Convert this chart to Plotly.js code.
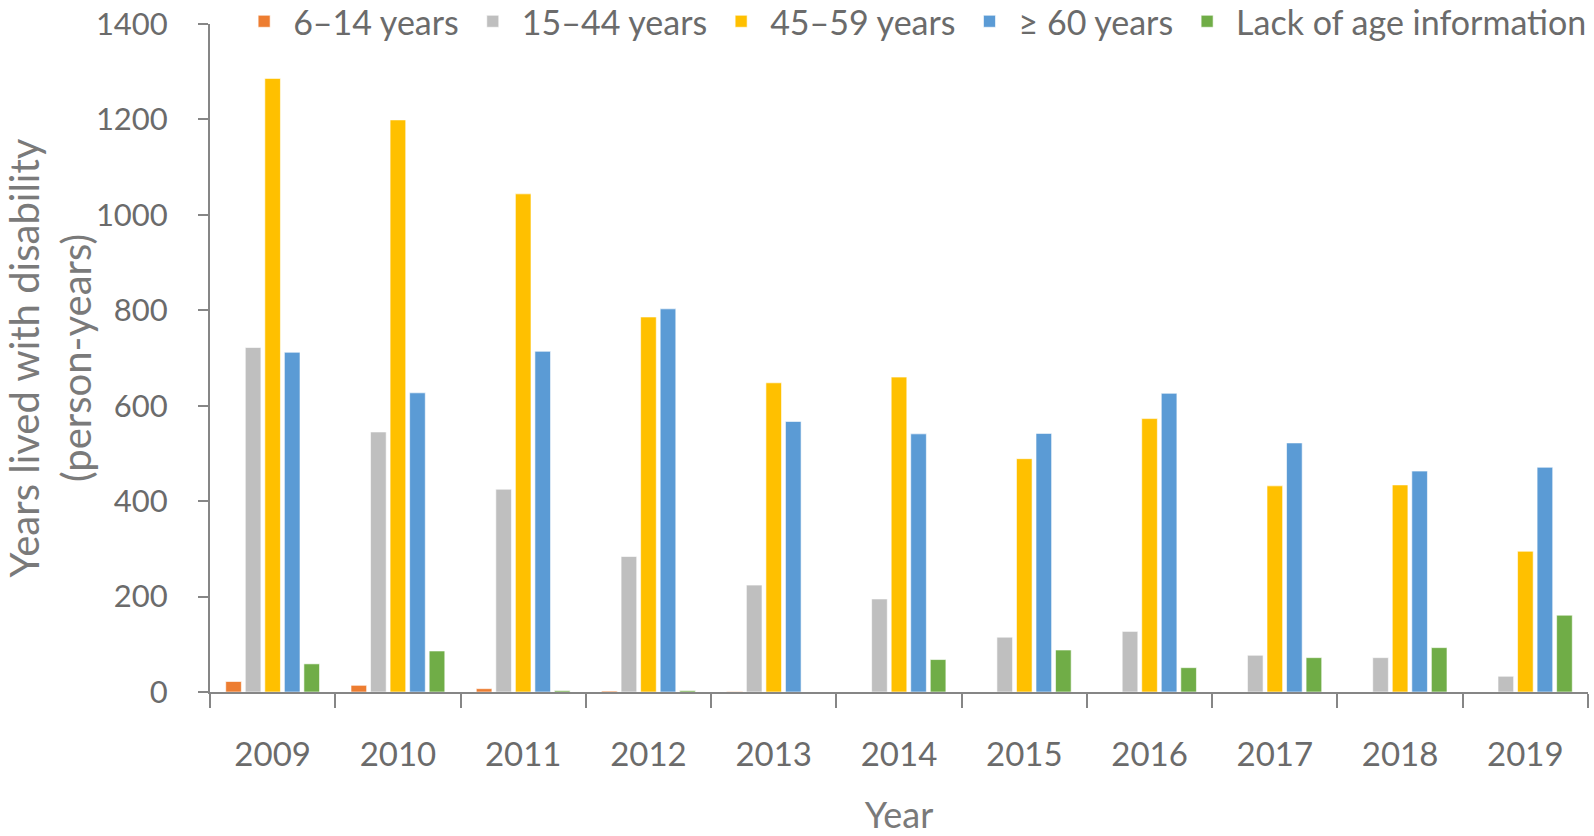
<!DOCTYPE html>
<html>
<head>
<meta charset="utf-8">
<script src="https://cdn.plot.ly/plotly-3.0.1.min.js"></script>
<style>html,body{margin:0;padding:0;background:#fff;}#chart{width:1594px;height:836px;}</style>
</head>
<body>
<div id="chart"></div>
<script>
const years = ['2009','2010','2011','2012','2013','2014','2015','2016','2017','2018','2019'];
const seriesNames = ['6–14 years','15–44 years','45–59 years','≥ 60 years','Lack of age information'];
const age6to14 = [22, 14, 7, 2, 1, 0, 0, 0, 0, 0, 0];
const age15to44 = [722, 545, 425, 284, 224, 195, 115, 127, 77, 72, 33];
const age45to59 = [1286, 1199, 1044, 786, 648, 660, 489, 573, 432, 434, 295];
const age60plus = [712, 627, 714, 803, 567, 541, 542, 626, 522, 463, 471];
const ageUnknown = [59, 86, 3, 3, 0, 68, 88, 51, 72, 93, 161];
const yTicks = [0, 200, 400, 600, 800, 1000, 1200, 1400];

const colors = ['#ED7D31','#BFBFBF','#FFC000','#5B9BD5','#70AD47'];
const values = [age6to14, age15to44, age45to59, age60plus, ageUnknown];
const FONT = 'Lato, "Open Sans", sans-serif';

const traces = values.map((v, i) => ({
  type: 'bar',
  name: seriesNames[i],
  x: years,
  y: v,
  marker: {color: colors[i], line: {color: 'rgba(255,255,255,0.6)', width: 1}},
  hoverinfo: 'x+y+name'
}));

const layout = {
  width: 1594, height: 836,
  margin: {l: 210, r: 6, t: 24, b: 144, autoexpand: false},
  paper_bgcolor: '#fff', plot_bgcolor: '#fff',
  barmode: 'group', bargap: 0.22, bargroupgap: 0.2,
  font: {family: FONT, color: '#6b6b6b'},
  showlegend: true,
  legend: {
    orientation: 'h', x: 1.003, xanchor: 'right', yref: 'paper', y: 1.0035, yanchor: 'middle',
    font: {family: FONT, size: 34, color: '#6b6b6b'},
    itemwidth: 48, tracegroupgap: 0, traceorder: 'normal', bgcolor: 'rgba(0,0,0,0)'
  },
  xaxis: {
    type: 'category',
    showline: true, linecolor: '#868686', linewidth: 2,
    ticks: 'outside', tickson: 'boundaries', ticklen: 14, tickcolor: '#868686', tickwidth: 2,
    tickfont: {family: FONT, size: 33, color: '#6b6b6b'},
    ticklabelstandoff: 32,
    showgrid: false, zeroline: false,
    title: {text: 'Year', font: {family: FONT, size: 36, color: '#7a7a7a'}, standoff: 42}
  },
  yaxis: {
    range: [0, 1400], tickvals: yTicks, ticktext: yTicks.map(String),
    showline: true, linecolor: '#868686', linewidth: 2,
    ticks: 'outside', ticklen: 10, tickcolor: '#868686', tickwidth: 2,
    tickfont: {family: FONT, size: 31, color: '#6b6b6b'},
    ticklabelstandoff: 24,
    showgrid: false, zeroline: false,
    title: {text: 'Years lived with disability<br>(person-years)', font: {family: FONT, size: 40, color: '#7a7a7a'}, standoff: 2}
  }
};

Plotly.newPlot('chart', traces, layout, {displayModeBar: false, staticPlot: true});
</script>
</body>
</html>
